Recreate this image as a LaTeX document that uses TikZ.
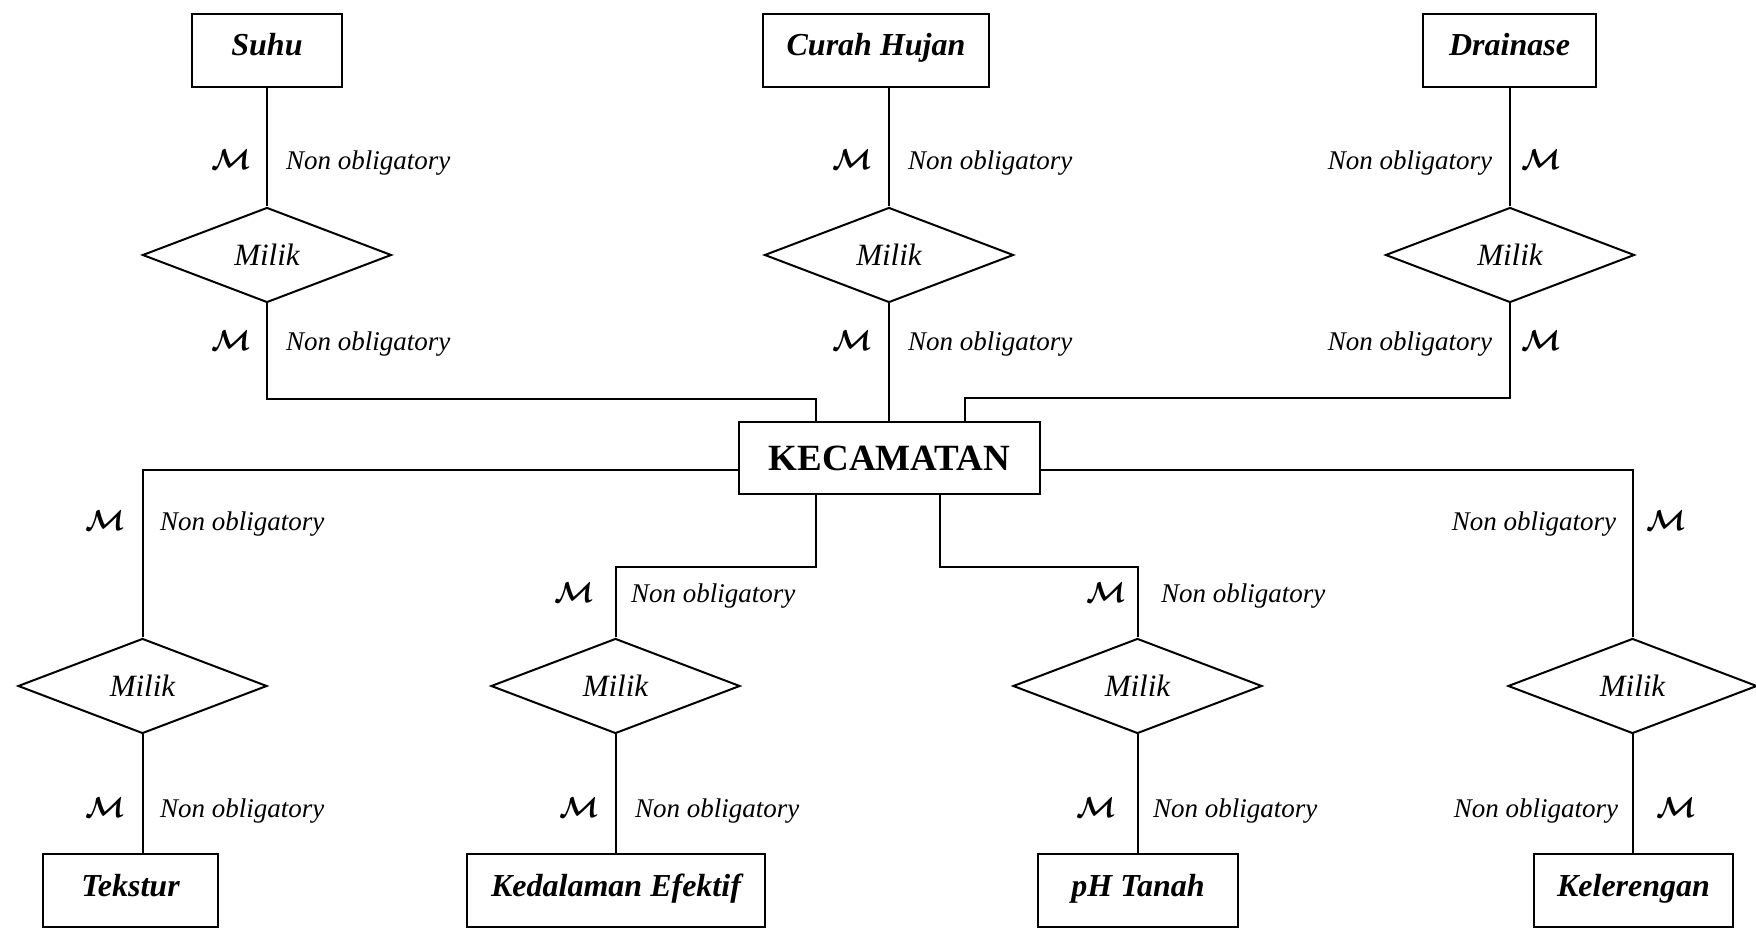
\documentclass[tikz,border=0pt]{standalone}
\usepackage{fontspec}
\setmainfont{Liberation Serif}
\usetikzlibrary{shapes.geometric}

\newcommand{\kardM}{{\boldmath$\mathcal{M}$}}

\begin{document}
\begin{tikzpicture}[x=0.5pt, y=-0.5pt, line width=1pt,
    entitas/.style={draw, rectangle, inner sep=0pt, minimum height=36.5pt, text height=10pt, text depth=4.5pt, font=\fontsize{16}{18}\selectfont\bfseries\itshape},
    relasi/.style={draw, diamond, inner sep=0pt, minimum width=124.5pt, minimum height=47.5pt, font=\fontsize{15.5}{18}\selectfont\itshape},
    kard/.style={inner sep=0pt, font=\fontsize{13.5}{16}\selectfont\itshape}]
    \useasboundingbox (0,0) rectangle (1756,929);

    % Central entity
    \node[draw, rectangle, inner sep=0pt, minimum width=150.5pt, minimum height=36pt, font=\fontsize{18.5}{20}\selectfont\bfseries] (kec) at (889.5,458) {KECAMATAN};

    % Upper entities (Suhu, Curah Hujan, Drainase)
    \node[entitas, minimum width=75pt] (suhu) at (267,50.5) {Suhu};
    \node[entitas, minimum width=113pt] (curah) at (876,50.5) {Curah Hujan};
    \node[entitas, minimum width=86.5pt] (drainase) at (1509.5,50.5) {Drainase};

    % Lower entities (Tekstur, Kedalaman Efektif, pH Tanah, Kelerengan)
    \node[entitas, minimum width=87.5pt] (tekstur) at (130.5,890.5) {Tekstur};
    \node[entitas, minimum width=149pt] (kedalaman) at (616,890.5) {Kedalaman Efektif};
    \node[entitas, minimum width=100pt] (ph) at (1138,890.5) {pH Tanah};
    \node[entitas, minimum width=99.5pt] (lereng) at (1633.5,890.5) {Kelerengan};

    % Relationships
    \node[relasi] (r1) at (267,255) {Milik};
    \node[relasi] (r2) at (889,255) {Milik};
    \node[relasi] (r3) at (1510,255) {Milik};
    \node[relasi] (r4) at (142.5,686) {Milik};
    \node[relasi] (r5) at (615.5,686) {Milik};
    \node[relasi] (r6) at (1137.5,686) {Milik};
    \node[relasi] (r7) at (1632.5,686) {Milik};

    % Attach points on KECAMATAN
    \coordinate (ka) at ([xshift=-37pt]kec.north);
    \coordinate (kb) at ([xshift=37.5pt]kec.north);
    \coordinate (kc) at ([yshift=-6pt]kec.west);
    \coordinate (kd) at ([xshift=-37pt]kec.south);
    \coordinate (ke) at ([xshift=25pt]kec.south);
    \coordinate (kf) at ([yshift=-6pt]kec.east);

    % Draw the Edges
    \draw (r1.north) -- (r1.north |- suhu.south);
    \draw (r1.south) -- ++(0,96) -| (ka);
    \draw (r2.north) -- (r2.north |- curah.south);
    \draw (r2.south) -- (r2.south |- kec.north);
    \draw (r3.north) -- (r3.north |- drainase.south);
    \draw (r3.south) -- ++(0,95) -| (kb);

    \draw (kc) -| (r4.north);
    \draw (r4.south) -- (r4.south |- tekstur.north);
    \draw (kd) -- ++(0,72) -| (r5.north);
    \draw (r5.south) -- (r5.south |- kedalaman.north);
    \draw (ke) -- ++(0,72) -| (r6.north);
    \draw (r6.south) -- (r6.south |- ph.north);
    \draw (kf) -| (r7.north);
    \draw (r7.south) -- (r7.south |- lereng.north);

    % --- Cardinality Labels ---

    % Suhu
    \node[kard, anchor=base east] (m1a) at (252,170) {\kardM};
    \node[kard, anchor=base west] (n1a) at (285,170) {Non obligatory};
    \node[kard, anchor=base east] (m1b) at (252,351) {\kardM};
    \node[kard, anchor=base west] (n1b) at (285,351) {Non obligatory};

    % Curah Hujan
    \node[kard, anchor=base east] (m2a) at (873,170) {\kardM};
    \node[kard, anchor=base west] (n2a) at (907,170) {Non obligatory};
    \node[kard, anchor=base east] (m2b) at (873,351) {\kardM};
    \node[kard, anchor=base west] (n2b) at (907,351) {Non obligatory};

    % Drainase
    \node[kard, anchor=base east] (n3a) at (1493,170) {Non obligatory};
    \node[kard, anchor=base west] (m3a) at (1520,170) {\kardM};
    \node[kard, anchor=base east] (n3b) at (1493,351) {Non obligatory};
    \node[kard, anchor=base west] (m3b) at (1520,351) {\kardM};

    % Tekstur
    \node[kard, anchor=base east] (m4a) at (126,531) {\kardM};
    \node[kard, anchor=base west] (n4a) at (159,531) {Non obligatory};
    \node[kard, anchor=base east] (m4b) at (126,818) {\kardM};
    \node[kard, anchor=base west] (n4b) at (159,818) {Non obligatory};

    % Kedalaman Efektif
    \node[kard, anchor=base east] (m5a) at (595,603) {\kardM};
    \node[kard, anchor=base west] (n5a) at (630,603) {Non obligatory};
    \node[kard, anchor=base east] (m5b) at (600,818) {\kardM};
    \node[kard, anchor=base west] (n5b) at (634,818) {Non obligatory};

    % pH Tanah
    \node[kard, anchor=base east] (m6a) at (1127,603) {\kardM};
    \node[kard, anchor=base west] (n6a) at (1160,603) {Non obligatory};
    \node[kard, anchor=base east] (m6b) at (1117,818) {\kardM};
    \node[kard, anchor=base west] (n6b) at (1152,818) {Non obligatory};

    % Kelerengan
    \node[kard, anchor=base east] (n7a) at (1617,531) {Non obligatory};
    \node[kard, anchor=base west] (m7a) at (1645,531) {\kardM};
    \node[kard, anchor=base east] (n7b) at (1619,818) {Non obligatory};
    \node[kard, anchor=base west] (m7b) at (1655,818) {\kardM};

\end{tikzpicture}
\end{document}
